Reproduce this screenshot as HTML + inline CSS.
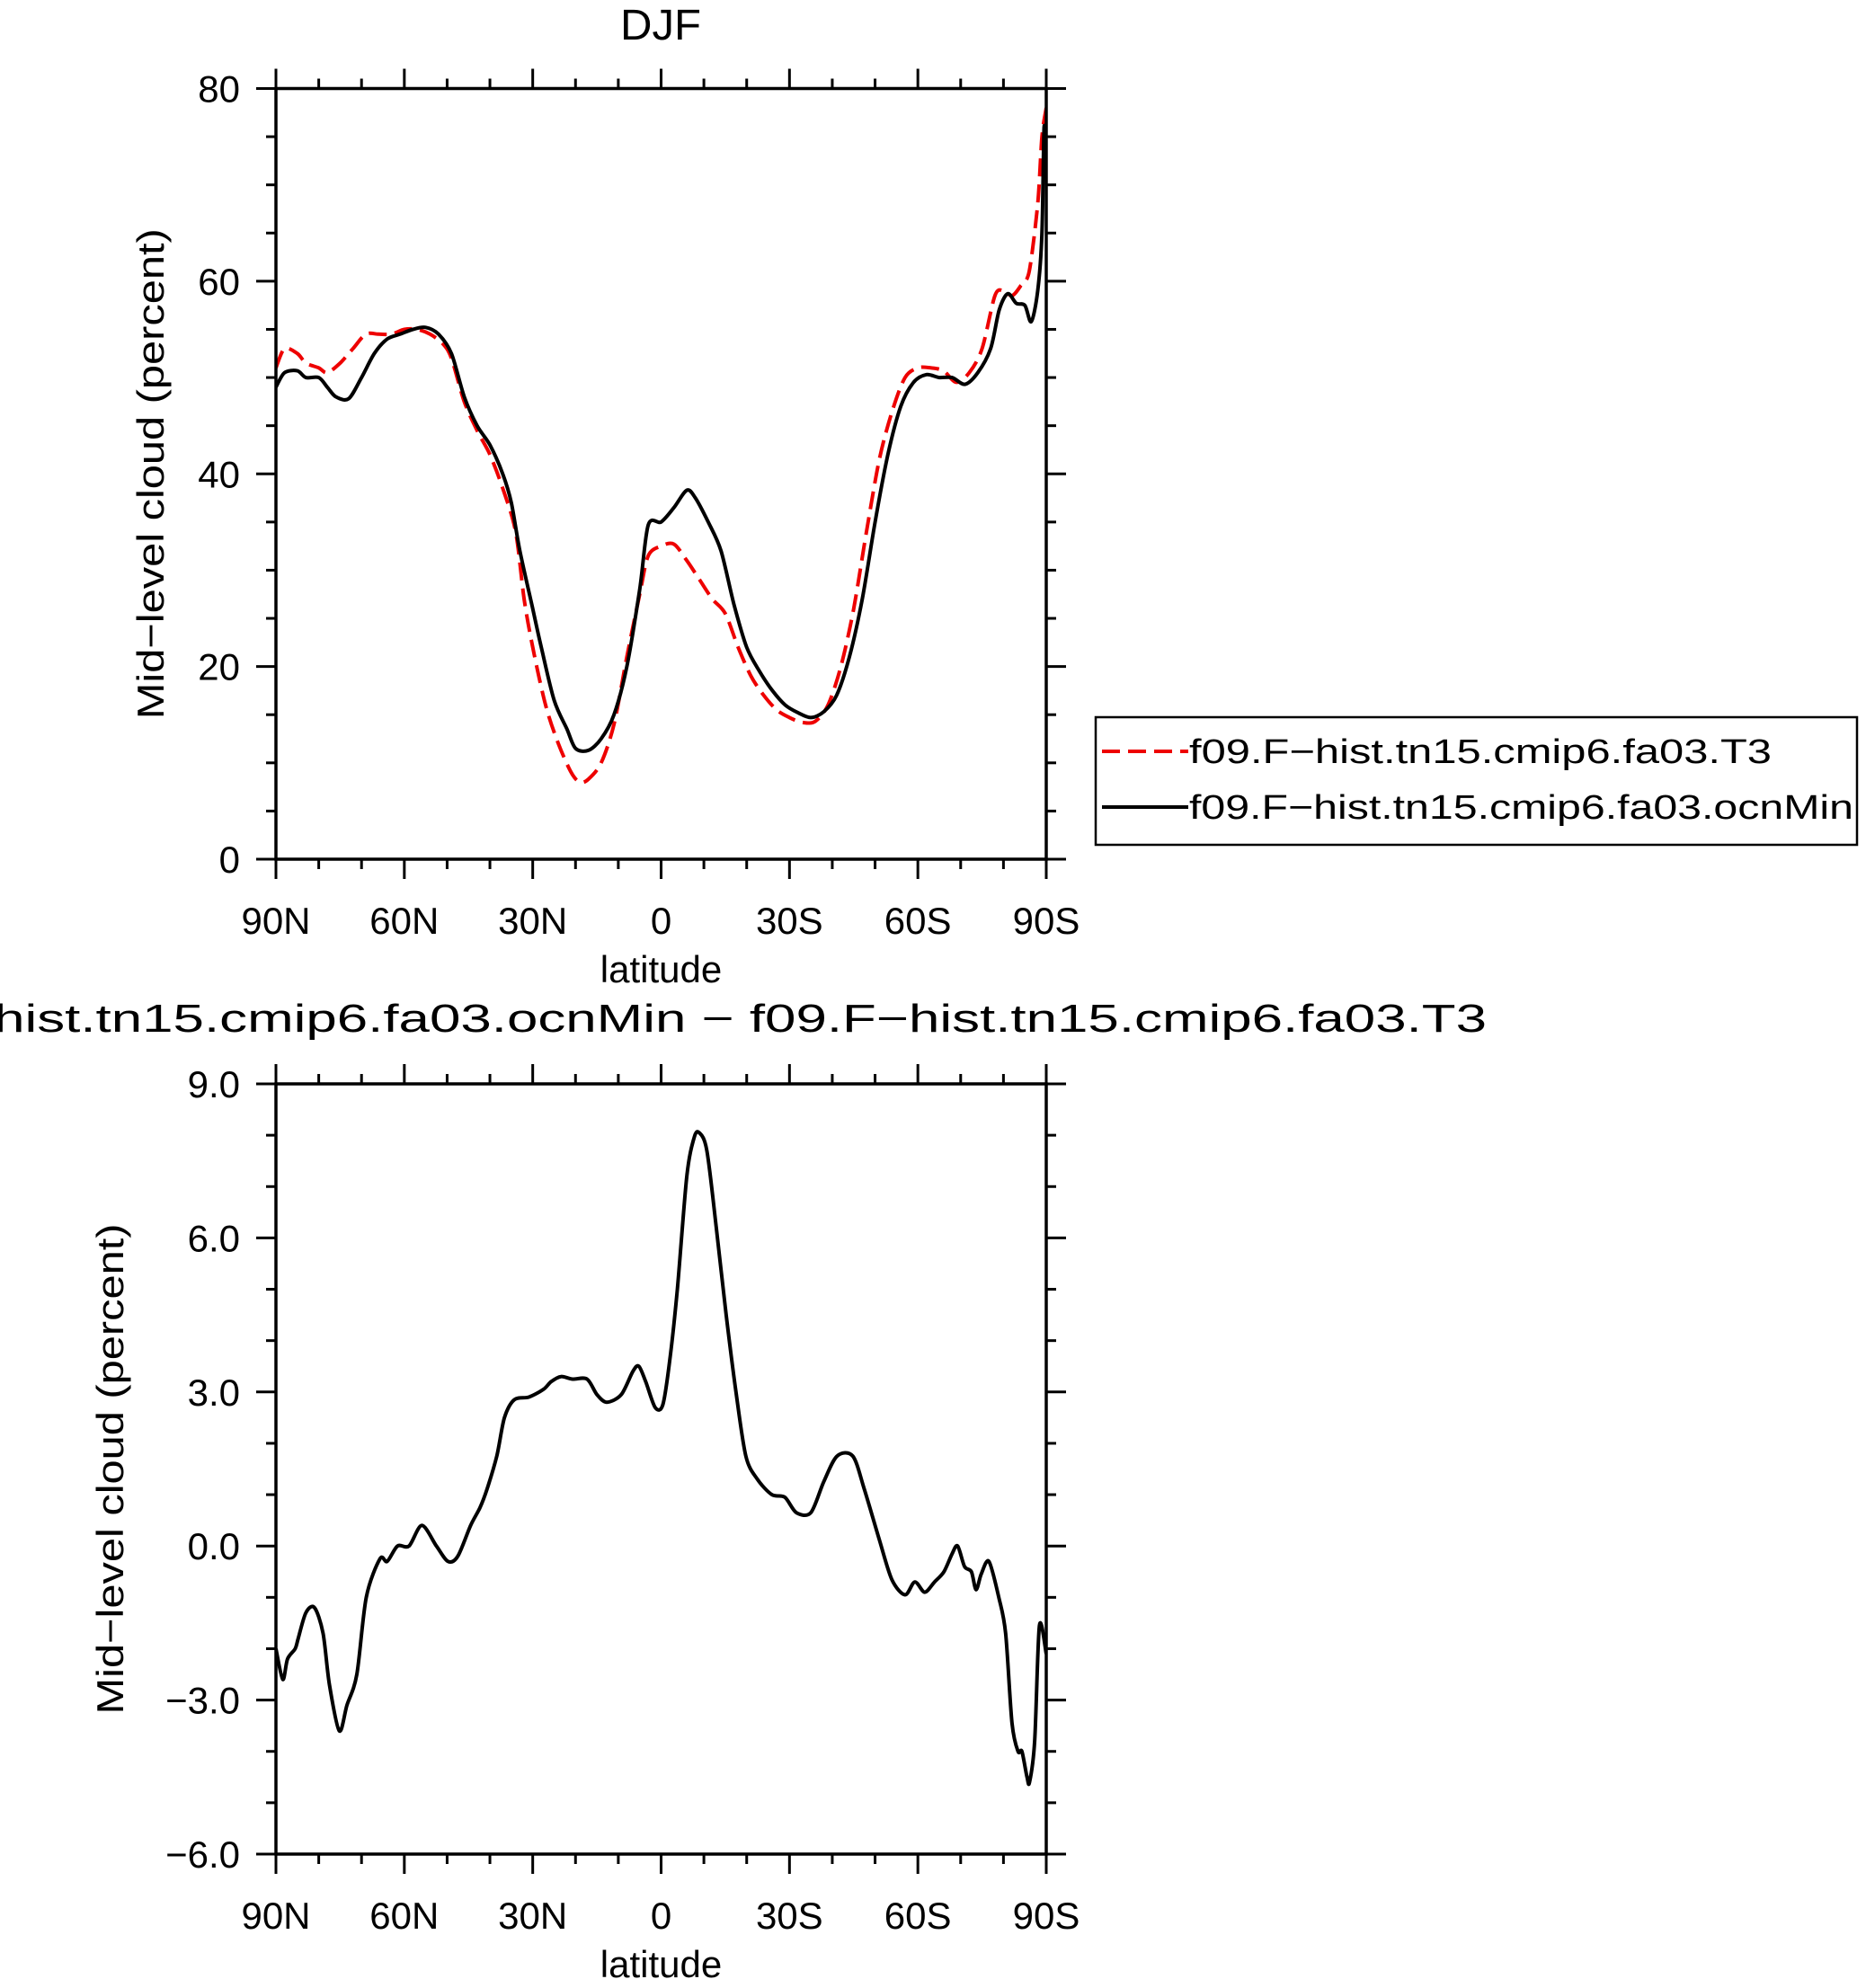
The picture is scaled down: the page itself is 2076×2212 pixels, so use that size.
<!DOCTYPE html>
<html><head><meta charset="utf-8">
<style>
html,body{margin:0;padding:0;background:#fff;}
svg{display:block;font-family:"Liberation Sans",sans-serif;}
</style></head>
<body>
<svg id="chart" width="2076" height="2212" viewBox="0 0 2076 2212" xmlns="http://www.w3.org/2000/svg">
<rect width="2076" height="2212" fill="#fff"/>
<text x="735" y="44" font-size="48" text-anchor="middle" textLength="90" lengthAdjust="spacingAndGlyphs">DJF</text>
<text x="735" y="1148" font-size="44" text-anchor="middle" textLength="1838" lengthAdjust="spacingAndGlyphs">f09.F−hist.tn15.cmip6.fa03.ocnMin − f09.F−hist.tn15.cmip6.fa03.T3</text>
<g id="top"></g>
<g id="bot"></g>
<g>
<rect x="1219" y="798" width="847" height="142" fill="#fff" stroke="#000" stroke-width="2.5"/>
<line x1="1226" y1="836" x2="1322" y2="836" stroke="#e00" stroke-width="4" stroke-dasharray="20,9"/>
<text x="1323" y="849" font-size="38" textLength="648" lengthAdjust="spacingAndGlyphs">f09.F−hist.tn15.cmip6.fa03.T3</text>
<line x1="1226" y1="898" x2="1322" y2="898" stroke="#000" stroke-width="4"/>
<text x="1323" y="911" font-size="38" textLength="739" lengthAdjust="spacingAndGlyphs">f09.F−hist.tn15.cmip6.fa03.ocnMin</text>
</g>
</svg>
<script>
const latBlack=[90,88,85,83,80,78,76,73,70,67,64,61,58,55,52,49,46,43,40,37,35,33,30,28,25,22,20,17,14,11,8,5,3,0,-3,-6,-8,-11,-14,-17,-20,-23,-26,-29,-32,-35,-38,-41,-44,-47,-50,-53,-56,-59,-62,-65,-68,-71,-74,-77,-79,-81,-83,-85,-86.5,-88,-89,-89.5,-90];
const valBlack=[49,50.5,50.7,50,50,49,48,47.8,50,52.5,54,54.5,55,55.2,54.5,52.5,48,45,43,40,37,32,26,22,16.5,13.5,11.5,11.3,12.5,15,20,28,34.7,35,36.5,38.3,37.5,35,32,26.5,22,19.5,17.5,16,15.2,14.7,15.3,17,21,27,35,42,47,49.5,50.3,50,50,49.3,50.5,53,57,58.7,57.7,57.5,55.8,59,65,76,72];
const latRed=[90,88,85,83,80,78,75,72,69,66,63,60,57,54,51,49,46,43,40,37,34,32,30,27,24,21,19,17,14,11,8,5,3,0,-3,-6,-9,-12,-15,-18,-21,-24,-27,-30,-33,-36,-39,-42,-45,-48,-51,-54,-57,-60,-63,-66,-69,-72,-75,-78,-80,-82,-84,-86,-88,-89,-90];
const valRed=[51,53,52.5,51.5,51,50.5,51.5,53,54.5,54.5,54.5,55,55,54.5,53.5,52,47.5,44.5,42,38.5,34,27,22,16,12,9,8,8.3,10,14,21,27.5,31.5,32.5,32.7,31,29,27,25.5,22,19,17,15.5,14.7,14.2,14.3,16,20,26,34,41.5,46.5,50,51,51,50.7,49.5,50.5,53,58.5,59,58.5,59.5,61,68,75,78];
const latDiff=[90,88.4,87.3,85.5,84.8,83,81,79,77.5,75.2,73.4,71.1,68.9,65.7,64,61.6,58.9,55.9,52.5,49.8,47.5,44.5,42.3,40.7,38.4,36.6,34.3,30.9,27.5,25.7,23.4,20.7,17.3,15,12.7,9.3,6.6,5.2,3.6,1.4,-0.4,-2,-3.8,-6,-7.7,-8.9,-10.7,-12.9,-15.2,-17.5,-19.8,-22.5,-25.9,-28.9,-31.6,-35,-38,-41.1,-44.8,-47.5,-50.9,-53.9,-57,-59.3,-61.6,-63.9,-66.1,-68,-69.3,-70.9,-72.5,-73.6,-74.8,-76.6,-78.9,-80.5,-82,-83.4,-84.3,-85.5,-86.1,-87.3,-88.4,-90];
const valDiff=[-2.0,-2.6,-2.2,-2.0,-1.8,-1.3,-1.2,-1.7,-2.7,-3.6,-3.1,-2.5,-1.0,-0.25,-0.3,0.0,0.0,0.4,0.0,-0.3,-0.2,0.4,0.75,1.1,1.75,2.5,2.85,2.9,3.05,3.2,3.3,3.25,3.25,2.95,2.8,2.95,3.4,3.5,3.2,2.7,2.75,3.6,5.0,7.2,7.95,8.05,7.7,6.2,4.5,3.0,1.75,1.3,1.0,0.95,0.65,0.65,1.25,1.75,1.75,1.1,0.15,-0.65,-0.95,-0.7,-0.9,-0.7,-0.5,-0.15,0.0,-0.4,-0.5,-0.85,-0.55,-0.3,-1.0,-1.7,-3.45,-4.0,-4.0,-4.5,-4.6,-3.8,-1.55,-2.1];
const xTickLabels=["90N","60N","30N","0","30S","60S","90S"];
const xTickLats=[90,60,30,0,-30,-60,-90];
const topYTicks=[0,20,40,60,80];
const topYLabels=["0","20","40","60","80"];
const botYTicks=[-6,-3,0,3,6,9];
const botYLabels=["−6.0","−3.0","0.0","3.0","6.0","9.0"];

const NS="http://www.w3.org/2000/svg";
function mk(parent,tag,attrs){const e=document.createElementNS(NS,tag);for(const k in attrs)e.setAttribute(k,attrs[k]);parent.appendChild(e);return e;}

function smoothPath(pts){
  let d="M"+pts[0][0].toFixed(1)+","+pts[0][1].toFixed(1);
  for(let i=0;i<pts.length-1;i++){
    const p0=pts[Math.max(0,i-1)],p1=pts[i],p2=pts[i+1],p3=pts[Math.min(pts.length-1,i+2)];
    const t=0.15;
    const c1=[p1[0]+(p2[0]-p0[0])*t,p1[1]+(p2[1]-p0[1])*t];
    const c2=[p2[0]-(p3[0]-p1[0])*t,p2[1]-(p3[1]-p1[1])*t];
    d+=" C"+c1[0].toFixed(1)+","+c1[1].toFixed(1)+" "+c2[0].toFixed(1)+","+c2[1].toFixed(1)+" "+p2[0].toFixed(1)+","+p2[1].toFixed(1);
  }
  return d;
}

function panel(g,cfg){
  const L=307,R=1164,T=cfg.top,B=cfg.bottom;
  const xs=lat=>L+(90-lat)/180*(R-L);
  const ys=v=>B-(v-cfg.ymin)/(cfg.ymax-cfg.ymin)*(B-T);
  const clip=mk(g,"clipPath",{id:cfg.id+"-clip"});
  mk(clip,"rect",{x:L,y:T-4,width:R-L,height:B-T+8});
  for(let lat=90;lat>=-90;lat-=10){
    const major=(lat%30===0);const len=major?22:11;const x=xs(lat);
    const t1=mk(g,"line",{x1:x,y1:B,x2:x,y2:B+len,stroke:"#000","stroke-width":3});
    
    
    const t2=mk(g,"line",{x1:x,y1:T,x2:x,y2:T-len,stroke:"#000","stroke-width":3});
    
    
  }
  for(let v=cfg.ymin;v<=cfg.ymax+1e-9;v+=cfg.minor){
    const major=Math.abs((v-cfg.ymin)/cfg.major-Math.round((v-cfg.ymin)/cfg.major))<1e-6;
    const len=major?22:11;const y=ys(v);
    const t1=mk(g,"line",{x1:L,y1:y,x2:L-len,y2:y,stroke:"#000","stroke-width":3});
    
    
    const t2=mk(g,"line",{x1:R,y1:y,x2:R+len,y2:y,stroke:"#000","stroke-width":3});
    
    
  }
  xTickLabels.forEach((s,i)=>{
    const t=mk(g,"text",{x:xs(xTickLats[i]),y:B+83,"font-size":42,"text-anchor":"middle"});
    
    
    t.textContent=s;
  });
  cfg.yt.forEach((v,i)=>{
    const t=mk(g,"text",{x:L-40,y:ys(v)+15,"font-size":42,"text-anchor":"end"});
    
    
    t.textContent=cfg.yl[i];
  });
  const xl=mk(g,"text",{x:(L+R)/2,y:B+137,"font-size":42,"text-anchor":"middle"});
  
  
  xl.textContent="latitude";
  const cy=(T+B)/2;
  const yl=mk(g,"text",{x:cfg.ylx,y:cy,"font-size":42,"text-anchor":"middle",transform:`rotate(-90 ${cfg.ylx} ${cy})`,textLength:546,lengthAdjust:"spacingAndGlyphs"});
  
  
  yl.textContent="Mid−level cloud (percent)";
  cfg.series.forEach(s=>{
    const pts=s.lat.map((la,i)=>[xs(la),ys(s.val[i])]);
    const p=mk(g,"path",{d:smoothPath(pts),fill:"none",stroke:s.color,"stroke-width":4,"stroke-linejoin":"round","clip-path":`url(#${cfg.id}-clip)`});
    if(s.dash)p.setAttribute("stroke-dasharray",s.dash);
    
    
  });
  const fr=mk(g,"rect",{x:L,y:T,width:R-L,height:B-T,fill:"none",stroke:"#000","stroke-width":3.5});
  
  
}
panel(document.getElementById("top"),{id:"p1",top:98.5,bottom:956,ymin:0,ymax:80,major:20,minor:5,yt:topYTicks,yl:topYLabels,ylx:182,
  series:[{lat:latRed,val:valRed,color:"#e00",dash:"20,9",name:"line-t3"},{lat:latBlack,val:valBlack,color:"#000",name:"line-ocnmin"}]});
panel(document.getElementById("bot"),{id:"p2",top:1206,bottom:2063,ymin:-6,ymax:9,major:3,minor:1,yt:botYTicks,yl:botYLabels,ylx:137,
  series:[{lat:latDiff,val:valDiff,color:"#000",name:"line-difference"}]});
</script>
</body></html>
